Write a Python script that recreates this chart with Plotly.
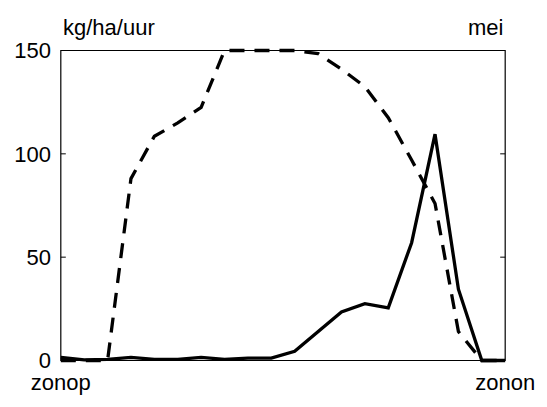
import plotly.graph_objects as go

# Hourly values over one day in May, sunrise (zonop) to sunset (zonon)
hours = list(range(20))
solid_values = [1.5, 0.3, 0.6, 1.5, 0.6, 0.6, 1.5, 0.6, 1.2, 1.2,
                4.5, 14.0, 23.5, 27.5, 25.5, 57.0, 109.5, 34.5, 0.0, 0.0]
dashed_values = [0.0, 0.0, 0.0, 88.0, 108.5, 115.0, 122.5, 150.0, 150.0, 150.0,
                 150.0, 148.5, 141.0, 132.5, 117.5, 97.0, 76.0, 14.0, 0.0, 0.0]

y_ticks = [0, 50, 100, 150]
x_ticks = [0, 19]
x_tick_labels = ["zonop", "zonon"]
unit_label = "kg/ha/uur"
month_label = "mei"

FONT = "Liberation Sans, Arial, sans-serif"
FS = 22

x_lo, x_hi = x_ticks[0], x_ticks[-1]
y_lo, y_hi = y_ticks[0], y_ticks[-1]
x_pad = 0.12
y_pad = 1.2

fig = go.Figure()
fig.add_trace(go.Scatter(x=hours, y=dashed_values, mode="lines",
                         line=dict(color="black", width=3.3, dash="15px,10px"),
                         hoverinfo="skip"))
fig.add_trace(go.Scatter(x=hours, y=solid_values, mode="lines",
                         line=dict(color="black", width=3.3),
                         hoverinfo="skip"))

# Axes box
fig.add_shape(type="rect", xref="x", yref="y", x0=x_lo, x1=x_hi, y0=y_lo, y1=y_hi,
              line=dict(color="black", width=1.2), layer="below")

# Inward tick marks on left and right sides
for yv in y_ticks[1:-1]:
    fig.add_shape(type="line", xref="x", yref="y", xsizemode="pixel", xanchor=x_lo,
                  x0=0, x1=5, y0=yv, y1=yv, line=dict(color="black", width=1))
    fig.add_shape(type="line", xref="x", yref="y", xsizemode="pixel", xanchor=x_hi,
                  x0=-5, x1=0, y0=yv, y1=yv, line=dict(color="black", width=1))

fig.add_annotation(text=unit_label, xref="x", yref="paper", x=x_lo, y=1,
                   xanchor="left", yanchor="bottom", yshift=6, showarrow=False,
                   font=dict(family=FONT, size=FS, color="black"))
fig.add_annotation(text=month_label, xref="x", yref="paper", x=x_hi, y=1,
                   xanchor="right", yanchor="bottom", yshift=6, showarrow=False,
                   font=dict(family=FONT, size=FS, color="black"))

fig.update_xaxes(range=[x_lo - x_pad, x_hi + x_pad], tickvals=x_ticks,
                 ticktext=x_tick_labels, ticks="", showgrid=False, zeroline=False,
                 showline=False, ticklabelstandoff=4,
                 tickfont=dict(family=FONT, size=FS, color="black"))
fig.update_yaxes(range=[y_lo - y_pad, y_hi + y_pad], tickvals=y_ticks, ticks="",
                 showgrid=False, zeroline=False, showline=False,
                 ticklabelstandoff=6,
                 tickfont=dict(family=FONT, size=FS, color="black"))

fig.update_layout(width=547, height=407, showlegend=False,
                  plot_bgcolor="white", paper_bgcolor="white",
                  margin=dict(l=58, r=33, t=48, b=31),
                  font=dict(family=FONT, size=FS, color="black"))

fig.write_html("out.html")
